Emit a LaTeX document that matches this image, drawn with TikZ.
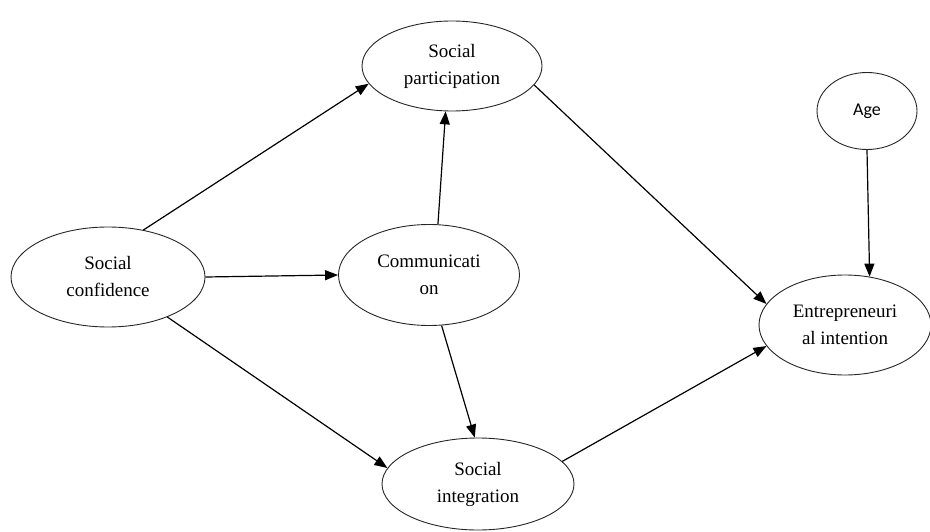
\documentclass[tikz,border=0pt]{standalone}
\usepackage{fontspec}
\setmainfont{Liberation Serif}
\newfontfamily\agefont{Carlito}
\usetikzlibrary{arrows.meta,shapes.geometric}

\begin{document}
\begin{tikzpicture}[x=1pt, y=-1pt, >={Triangle[length=13pt,width=10pt]},
	var/.style={ellipse, draw=black!85, line width=0.9pt, inner sep=0pt, align=center,
		font=\rmfamily\fontsize{19}{27}\selectfont},
	link/.style={->, line width=1.2pt}]
	\useasboundingbox (0, 0) rectangle (930, 532);

	% variables
	\node[var, minimum width=180pt, minimum height=90pt] (part) at (452, 66) {Social\\participation};
	\node[var, minimum width=100pt, minimum height=77pt, font=\agefont\fontsize{18}{22}\selectfont] (age) at (867, 111) {Age};
	\node[var, minimum width=194pt, minimum height=100pt] (conf) at (108, 277) {Social\\confidence};
	\node[var, minimum width=181pt, minimum height=101pt] (comm) at (429, 275) {Communicati\\on};
	\node[var, minimum width=172pt, minimum height=100pt] (entr) at (845, 325) {Entrepreneuri\\al intention};
	\node[var, minimum width=192pt, minimum height=92pt] (integ) at (478, 484) {Social\\integration};

	% paths
	\draw[link] (conf.53) -- (part.192);
	\draw[link] (conf.east) -- (comm.west);
	\draw[link] (conf.-34) -- (integ.170);
	\draw[link] (comm.80) -- (part.262);
	\draw[link] (comm.284) -- (integ.94);
	\draw[link] (part.-13) -- (entr.165);
	\draw[link] (integ.15) -- (entr.195);
	\draw[link] (age.south) -- (entr.63);
\end{tikzpicture}
\end{document}
